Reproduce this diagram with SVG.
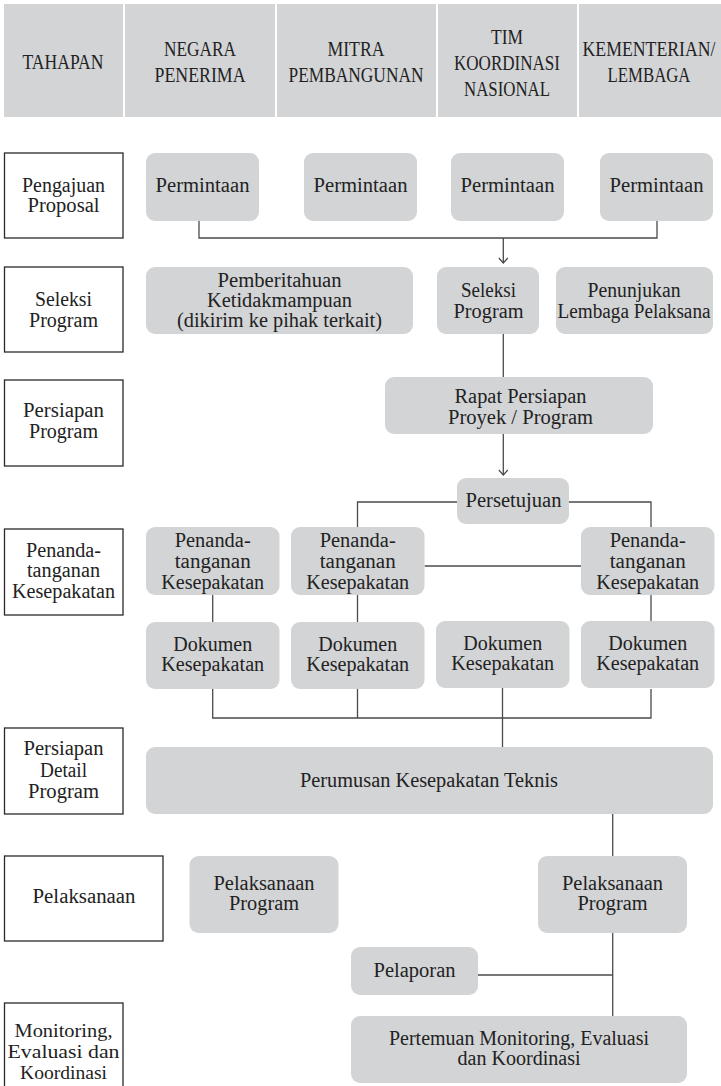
<svg xmlns="http://www.w3.org/2000/svg" width="721" height="1086" viewBox="0 0 721 1086">
<defs>
<style>
.hd rect{fill:#d3d4d6}
.node rect{fill:#d3d4d6}
.lbl rect{fill:#fff;stroke:#2a2a2a;stroke-width:1.3}
text{font-family:"Liberation Serif",serif;fill:#222;text-anchor:middle;font-size:20.5px}
.hd text{font-size:21px}
.small text{font-size:18.5px}
.conn path{fill:none;stroke:#4a4a4a;stroke-width:1.3}
</style>
<marker id="arr" viewBox="-7 -7 14 14" refX="0" refY="0" markerWidth="14" markerHeight="14" markerUnits="userSpaceOnUse" orient="auto">
<path d="M-5,-4.5 L0,0 L-5,4.5" fill="none" stroke="#4a4a4a" stroke-width="1.2"/>
</marker>
</defs>
<rect width="721" height="1086" fill="#fff"/>

<g class="hd" id="header">
<g id="h-tahapan"><rect x="4" y="4" width="119" height="113"/><text x="63" y="69" textLength="81" lengthAdjust="spacingAndGlyphs">TAHAPAN</text></g>
<g id="h-negara"><rect x="125" y="4" width="150" height="113"/><text x="200" y="56" textLength="72" lengthAdjust="spacingAndGlyphs">NEGARA</text><text x="200" y="82" textLength="91" lengthAdjust="spacingAndGlyphs">PENERIMA</text></g>
<g id="h-mitra"><rect x="277" y="4" width="159" height="113"/><text x="356" y="56" textLength="57" lengthAdjust="spacingAndGlyphs">MITRA</text><text x="356" y="82" textLength="135" lengthAdjust="spacingAndGlyphs">PEMBANGUNAN</text></g>
<g id="h-tim"><rect x="438" y="4" width="139" height="113"/><text x="507" y="44" textLength="32" lengthAdjust="spacingAndGlyphs">TIM</text><text x="507" y="70" textLength="106" lengthAdjust="spacingAndGlyphs">KOORDINASI</text><text x="507" y="96" textLength="86" lengthAdjust="spacingAndGlyphs">NASIONAL</text></g>
<g id="h-kl"><rect x="579" y="4" width="142" height="113"/><text transform="translate(649,56) scale(0.845,1)" x="0" y="0">KEMENTERIAN/</text><text x="649" y="82" textLength="83" lengthAdjust="spacingAndGlyphs">LEMBAGA</text></g>
</g>

<g class="conn" id="connectors">
<path d="M199,221 V238 H657 V221"/>
<path d="M503.3,238 V263" marker-end="url(#arr)"/>
<path d="M503.3,334 V377"/>
<path d="M503.3,434 V475" marker-end="url(#arr)"/>
<path d="M457,502 H357.5 V527"/>
<path d="M569,502 H651 V527"/>
<path d="M424.5,566 H581"/>
<path d="M212.7,595 V622"/>
<path d="M357.5,595 V622"/>
<path d="M651,595 V621"/>
<path d="M212.7,689 V718 H651 V689"/>
<path d="M357.5,689 V718"/>
<path d="M502.5,688 V747"/>
<path d="M612.7,814 V856"/>
<path d="M612.7,933 V1016"/>
<path d="M478,975 H612.7"/>
</g>

<g class="lbl" id="stage-pengajuan"><rect x="4.5" y="153" width="118.5" height="85"/><text x="63.5" y="192" textLength="83" lengthAdjust="spacingAndGlyphs">Pengajuan</text><text x="63.5" y="212" textLength="72" lengthAdjust="spacingAndGlyphs">Proposal</text></g>
<g class="lbl" id="stage-seleksi"><rect x="4.5" y="267" width="118.5" height="85"/><text x="63.5" y="306" textLength="57" lengthAdjust="spacingAndGlyphs">Seleksi</text><text x="63.5" y="327" textLength="69" lengthAdjust="spacingAndGlyphs">Program</text></g>
<g class="lbl" id="stage-persiapan"><rect x="4.5" y="380" width="118.5" height="86"/><text x="63.5" y="417" textLength="81" lengthAdjust="spacingAndGlyphs">Persiapan</text><text x="63.5" y="438" textLength="69" lengthAdjust="spacingAndGlyphs">Program</text></g>
<g class="lbl" id="stage-penandatanganan"><rect x="4.5" y="529" width="118.5" height="86"/><text x="63.5" y="557" textLength="75" lengthAdjust="spacingAndGlyphs">Penanda-</text><text x="63.5" y="577" textLength="73" lengthAdjust="spacingAndGlyphs">tanganan</text><text x="63.5" y="598" textLength="103" lengthAdjust="spacingAndGlyphs">Kesepakatan</text></g>
<g class="lbl" id="stage-detail"><rect x="4.5" y="728" width="118.5" height="86"/><text x="63.5" y="755" textLength="80" lengthAdjust="spacingAndGlyphs">Persiapan</text><text x="63.5" y="777" textLength="47" lengthAdjust="spacingAndGlyphs">Detail</text><text x="63.5" y="798" textLength="71" lengthAdjust="spacingAndGlyphs">Program</text></g>
<g class="lbl" id="stage-pelaksanaan"><rect x="4.5" y="856" width="158.5" height="85"/><text x="84" y="903" textLength="103" lengthAdjust="spacingAndGlyphs">Pelaksanaan</text></g>
<g class="lbl small" id="stage-monitoring"><rect x="4.5" y="1003" width="118.5" height="90"/><text x="63.5" y="1037" textLength="98" lengthAdjust="spacingAndGlyphs">Monitoring,</text><text x="63.5" y="1058" textLength="112" lengthAdjust="spacingAndGlyphs">Evaluasi dan</text><text x="63.5" y="1079" textLength="87" lengthAdjust="spacingAndGlyphs">Koordinasi</text></g>

<g class="node" id="permintaan-1"><rect x="146" y="153" width="113" height="68" rx="9"/><text x="202.5" y="192" textLength="94" lengthAdjust="spacingAndGlyphs">Permintaan</text></g>
<g class="node" id="permintaan-2"><rect x="304" y="153" width="113" height="68" rx="9"/><text x="360.5" y="192" textLength="94" lengthAdjust="spacingAndGlyphs">Permintaan</text></g>
<g class="node" id="permintaan-3"><rect x="451" y="153" width="113" height="68" rx="9"/><text x="507.5" y="192" textLength="94" lengthAdjust="spacingAndGlyphs">Permintaan</text></g>
<g class="node" id="permintaan-4"><rect x="600" y="153" width="113" height="68" rx="9"/><text x="656.5" y="192" textLength="94" lengthAdjust="spacingAndGlyphs">Permintaan</text></g>

<g class="node" id="pemberitahuan"><rect x="146" y="267" width="267" height="67" rx="9"/><text x="279.5" y="287" textLength="124" lengthAdjust="spacingAndGlyphs">Pemberitahuan</text><text x="279.5" y="307" textLength="145" lengthAdjust="spacingAndGlyphs">Ketidakmampuan</text><text x="279.5" y="327" textLength="205" lengthAdjust="spacingAndGlyphs">(dikirim ke pihak terkait)</text></g>
<g class="node" id="seleksi"><rect x="437" y="267" width="102" height="67" rx="9"/><text x="488.5" y="297" textLength="55" lengthAdjust="spacingAndGlyphs">Seleksi</text><text x="488.5" y="318" textLength="70" lengthAdjust="spacingAndGlyphs">Program</text></g>
<g class="node" id="penunjukan"><rect x="556" y="267" width="157" height="67" rx="9"/><text x="634" y="297" textLength="93" lengthAdjust="spacingAndGlyphs">Penunjukan</text><text x="634" y="318" textLength="153" lengthAdjust="spacingAndGlyphs">Lembaga Pelaksana</text></g>

<g class="node" id="rapat"><rect x="385" y="377" width="268" height="57" rx="9"/><text x="520.5" y="403" textLength="132" lengthAdjust="spacingAndGlyphs">Rapat Persiapan</text><text x="520.5" y="424" textLength="145" lengthAdjust="spacingAndGlyphs">Proyek / Program</text></g>

<g class="node" id="persetujuan"><rect x="457" y="478" width="112" height="46" rx="9"/><text x="513.5" y="507" textLength="96" lengthAdjust="spacingAndGlyphs">Persetujuan</text></g>

<g class="node" id="penanda-1"><rect x="146" y="527" width="133.5" height="68" rx="9"/><text x="212.7" y="547" textLength="76" lengthAdjust="spacingAndGlyphs">Penanda-</text><text x="212.7" y="568" textLength="76" lengthAdjust="spacingAndGlyphs">tanganan</text><text x="212.7" y="589" textLength="103" lengthAdjust="spacingAndGlyphs">Kesepakatan</text></g>
<g class="node" id="penanda-2"><rect x="291" y="527" width="133.5" height="68" rx="9"/><text x="357.7" y="547" textLength="76" lengthAdjust="spacingAndGlyphs">Penanda-</text><text x="357.7" y="568" textLength="76" lengthAdjust="spacingAndGlyphs">tanganan</text><text x="357.7" y="589" textLength="103" lengthAdjust="spacingAndGlyphs">Kesepakatan</text></g>
<g class="node" id="penanda-3"><rect x="581" y="527" width="133.5" height="68" rx="9"/><text x="647.7" y="547" textLength="76" lengthAdjust="spacingAndGlyphs">Penanda-</text><text x="647.7" y="568" textLength="76" lengthAdjust="spacingAndGlyphs">tanganan</text><text x="647.7" y="589" textLength="103" lengthAdjust="spacingAndGlyphs">Kesepakatan</text></g>

<g class="node" id="dokumen-1"><rect x="146" y="622" width="133.5" height="67" rx="9"/><text x="212.7" y="651" textLength="79" lengthAdjust="spacingAndGlyphs">Dokumen</text><text x="212.7" y="671" textLength="103" lengthAdjust="spacingAndGlyphs">Kesepakatan</text></g>
<g class="node" id="dokumen-2"><rect x="291" y="622" width="133.5" height="67" rx="9"/><text x="357.7" y="651" textLength="79" lengthAdjust="spacingAndGlyphs">Dokumen</text><text x="357.7" y="671" textLength="103" lengthAdjust="spacingAndGlyphs">Kesepakatan</text></g>
<g class="node" id="dokumen-3"><rect x="436" y="621" width="133.5" height="67" rx="9"/><text x="502.7" y="650" textLength="79" lengthAdjust="spacingAndGlyphs">Dokumen</text><text x="502.7" y="670" textLength="103" lengthAdjust="spacingAndGlyphs">Kesepakatan</text></g>
<g class="node" id="dokumen-4"><rect x="581" y="621" width="133.5" height="67" rx="9"/><text x="647.7" y="650" textLength="79" lengthAdjust="spacingAndGlyphs">Dokumen</text><text x="647.7" y="670" textLength="103" lengthAdjust="spacingAndGlyphs">Kesepakatan</text></g>

<g class="node" id="perumusan"><rect x="146" y="747" width="567" height="67" rx="9"/><text x="429" y="787" textLength="258" lengthAdjust="spacingAndGlyphs">Perumusan Kesepakatan Teknis</text></g>

<g class="node" id="pelaksanaan-1"><rect x="189.5" y="856" width="149" height="77" rx="9"/><text x="264" y="890" textLength="101" lengthAdjust="spacingAndGlyphs">Pelaksanaan</text><text x="264" y="910" textLength="70" lengthAdjust="spacingAndGlyphs">Program</text></g>
<g class="node" id="pelaksanaan-2"><rect x="538" y="856" width="149" height="77" rx="9"/><text x="612.5" y="890" textLength="101" lengthAdjust="spacingAndGlyphs">Pelaksanaan</text><text x="612.5" y="910" textLength="70" lengthAdjust="spacingAndGlyphs">Program</text></g>

<g class="node" id="pelaporan"><rect x="351" y="947" width="127" height="48" rx="9"/><text x="414.5" y="977" textLength="82" lengthAdjust="spacingAndGlyphs">Pelaporan</text></g>

<g class="node" id="pertemuan"><rect x="351" y="1016" width="336" height="67" rx="9"/><text x="519" y="1045" textLength="260" lengthAdjust="spacingAndGlyphs">Pertemuan Monitoring, Evaluasi</text><text x="519" y="1065" textLength="123" lengthAdjust="spacingAndGlyphs">dan Koordinasi</text></g>
</svg>
